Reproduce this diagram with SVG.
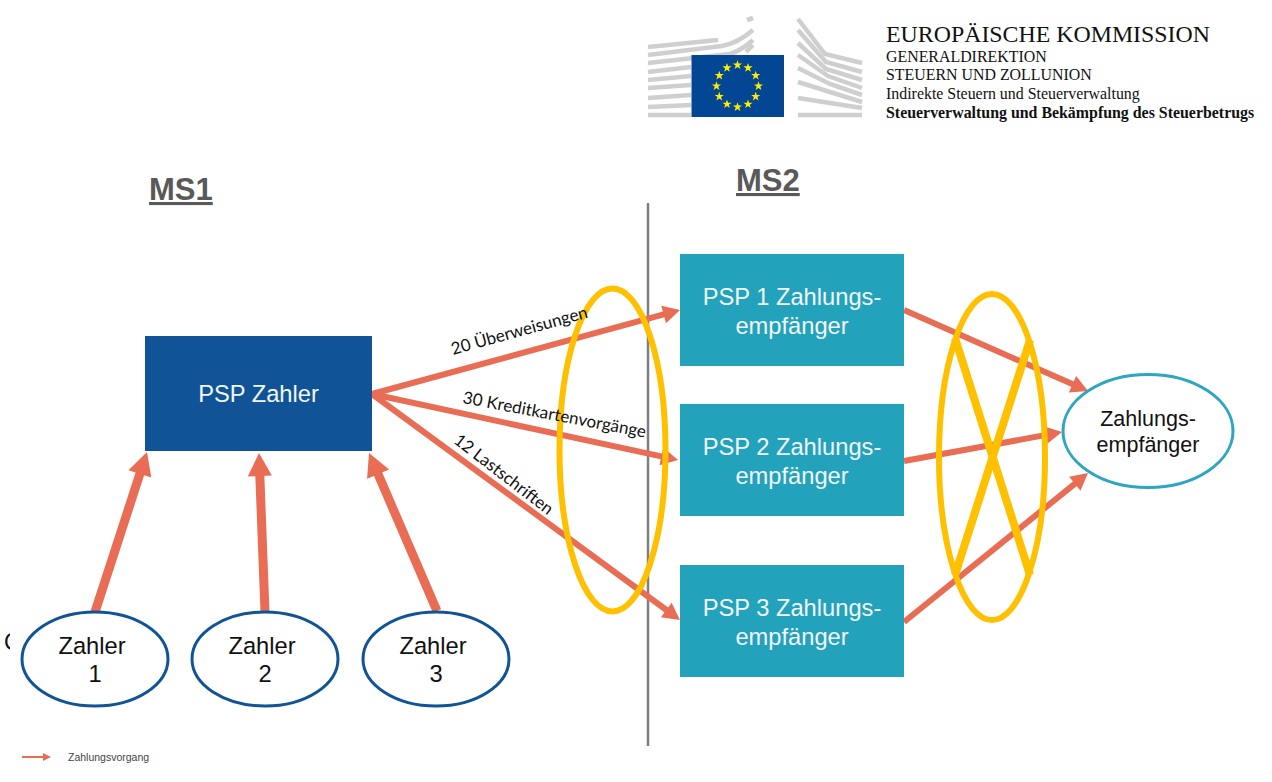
<svg xmlns="http://www.w3.org/2000/svg" width="1272" height="782" viewBox="0 0 1272 782">
<style>
.hd{font-family:"Liberation Serif","Times New Roman",serif;fill:#111;font-size:15.9px}
.ms{font-family:"Liberation Sans",Arial,sans-serif;font-weight:700;font-size:31px;fill:#595959;text-decoration:underline}
.n{font-family:"Liberation Sans",Arial,sans-serif;font-size:23.700px;text-anchor:middle}
.w{fill:#f2f6f8}
.k{fill:#111}
.box{fill:#22a2bb}
.za{fill:#fff;stroke:#105497;stroke-width:3}
.thick{stroke:#e96c54;stroke-width:9;fill:none;marker-end:url(#hb)}
.thin{stroke:#e96c54;stroke-width:6;fill:none;marker-end:url(#hs)}
.oval{fill:none;stroke:#ffc000;stroke-width:6}
.lab{font-family:Lato,"Open Sans",sans-serif;font-size:17px;fill:#111}
.st{fill:none;stroke:#cfcfcf;stroke-width:4.500}
</style>
<defs>
<marker id="hb" markerUnits="userSpaceOnUse" markerWidth="26" markerHeight="26" refX="1" refY="13" orient="auto" overflow="visible"><path d="M0,1 L23,13 L0,25 z" fill="#e96c54"/></marker>
<marker id="hs" markerUnits="userSpaceOnUse" markerWidth="18" markerHeight="20" refX="1" refY="10" orient="auto" overflow="visible"><path d="M0,1 L17,10 L0,19 z" fill="#e96c54"/></marker>
<marker id="hl" markerUnits="userSpaceOnUse" markerWidth="10" markerHeight="10" refX="1" refY="5" orient="auto" overflow="visible"><path d="M0,1 L8,5 L0,9 z" fill="#e96c54"/></marker>
<polygon id="star" points="0,-4.800 1.100,-1.500 4.600,-1.500 1.800,.6 2.900,3.900 0,1.900 -2.900,3.900 -1.800,.6 -4.600,-1.500 -1.100,-1.500" fill="#ffed00"/>
<clipPath id="cut"><rect x="0" y="625" width="10" height="35"/></clipPath>
</defs>

<g id="logo">
<g class="st">
<path d="M648,47 L718,40"/><path d="M648,55 L722,46 Q738,43 753,30"/><path d="M648,63 L730,54 Q742,50 753,40"/>
<path d="M648,72 L691,67"/><path d="M648,80 L691,76"/><path d="M648,88 L691,85"/><path d="M648,98 L691,95"/><path d="M648,107 L691,105"/><path d="M648,115 L691,115"/>
<path d="M746,52 L753,45"/><path d="M747,20 L753,18"/>
<path d="M798,19 L825,54 L862,63"/><path d="M798,30 L826,62 L862,72"/><path d="M798,43 L826,69 L862,80"/><path d="M798,55 L828,76 L862,88"/><path d="M798,68 L830,84 L862,95"/><path d="M798,82 L830,92 L862,102"/><path d="M798,98 L830,103 L862,108"/><path d="M798,115 L862,115"/>
</g>
<rect x="691.500" y="55" width="92.500" height="62" fill="#034694"/>
<use href="#star" x="737.500" y="65"/><use href="#star" x="748" y="67.800"/><use href="#star" x="755.700" y="75.500"/><use href="#star" x="758.500" y="86"/><use href="#star" x="755.700" y="96.500"/><use href="#star" x="748" y="104.200"/><use href="#star" x="737.500" y="107"/><use href="#star" x="727" y="104.200"/><use href="#star" x="719.300" y="96.500"/><use href="#star" x="716.500" y="86"/><use href="#star" x="719.300" y="75.500"/><use href="#star" x="727" y="67.800"/>
</g>
<g id="header">
<text class="hd" x="886" y="42" style="font-size:23.850px">EUROPÄISCHE KOMMISSION</text>
<text class="hd" x="886" y="62">GENERALDIREKTION</text>
<text class="hd" x="886" y="80">STEUERN UND ZOLLUNION</text>
<text class="hd" x="886" y="99">Indirekte Steuern und Steuerverwaltung</text>
<text class="hd" x="886" y="118" style="font-weight:700">Steuerverwaltung und Bekämpfung des Steuerbetrugs</text>
</g>
<text class="ms" x="149" y="200">MS1</text>
<text class="ms" x="736" y="191">MS2</text>
<line id="divider" x1="648" y1="203" x2="648" y2="746" stroke="#7f7f7f" stroke-width="2.500"/>

<g id="connectors">
<line class="thick" x1="95" y1="612" x2="140.200" y2="472.900"/>
<line class="thick" x1="265" y1="612" x2="259.800" y2="475"/>
<line class="thick" x1="437" y1="611" x2="377.700" y2="473.200"/>
<line class="thin" x1="372" y1="394" x2="664.600" y2="314.200"/>
<line class="thin" x1="372" y1="394" x2="662.400" y2="456.600"/>
<line class="thin" x1="372" y1="394" x2="667.100" y2="610.500"/>
<line class="thin" x1="904" y1="310" x2="1073.400" y2="384.600"/>
<line class="thin" x1="904" y1="461" x2="1046.300" y2="434.900"/>
<line class="thin" x1="904" y1="622" x2="1075.600" y2="483.100"/>
</g>

<g id="psp-zahler"><rect x="145" y="336" width="227" height="115" fill="#105497"/><text class="n w" x="258.500" y="402">PSP Zahler</text></g>
<g id="psp1"><rect class="box" x="680" y="254" width="224" height="112"/><text class="n w" x="792" y="305">PSP 1 Zahlungs-</text><text class="n w" x="792" y="334">empfänger</text></g>
<g id="psp2"><rect class="box" x="680" y="404" width="224" height="112"/><text class="n w" x="792" y="455">PSP 2 Zahlungs-</text><text class="n w" x="792" y="484">empfänger</text></g>
<g id="psp3"><rect class="box" x="680" y="565" width="224" height="112"/><text class="n w" x="792" y="616">PSP 3 Zahlungs-</text><text class="n w" x="792" y="645">empfänger</text></g>
<g id="zahler1"><ellipse class="za" cx="95" cy="659" rx="73" ry="47"/><text class="n k" x="92" y="654">Zahler</text><text class="n k" x="95" y="682">1</text></g>
<g id="zahler2"><ellipse class="za" cx="265" cy="659" rx="73" ry="47"/><text class="n k" x="262" y="654">Zahler</text><text class="n k" x="265" y="682">2</text></g>
<g id="zahler3"><ellipse class="za" cx="436" cy="659" rx="73" ry="47"/><text class="n k" x="433" y="654">Zahler</text><text class="n k" x="436" y="682">3</text></g>
<g id="empfaenger"><ellipse cx="1148" cy="431" rx="85" ry="56.500" fill="#fff" stroke="#2ea6bf" stroke-width="3"/><text class="n k" x="1148" y="426" style="font-size:21.500px">Zahlungs-</text><text class="n k" x="1148" y="452" style="font-size:21.500px">empfänger</text></g>

<g id="ovals">
<ellipse class="oval" cx="612.500" cy="450" rx="53" ry="161.500"/>
<ellipse class="oval" cx="992" cy="457" rx="53" ry="163"/>
<line x1="955" y1="338" x2="1030" y2="575" stroke="#ffc000" stroke-width="8"/>
<line x1="1030" y1="340" x2="955" y2="575" stroke="#ffc000" stroke-width="8"/>
</g>

<g id="labels">
<text class="lab" transform="translate(453,355) rotate(-15.500)">20 Überweisungen</text>
<text class="lab" transform="translate(462,403) rotate(10.700)">30 Kreditkartenvorgänge</text>
<text class="lab" transform="translate(452.700,442.300) rotate(37.600)">12 Lastschriften</text>
</g>

<g id="legend">
<line x1="22" y1="757" x2="44" y2="757" stroke="#e96c54" stroke-width="2" marker-end="url(#hl)"/>
<text x="68" y="761" font-family="Liberation Sans, Arial, sans-serif" font-size="10.500" fill="#444">Zahlungsvorgang</text>
</g>
<text x="4" y="650" font-family="Liberation Sans, Arial, sans-serif" font-size="23" fill="#111" clip-path="url(#cut)">C</text>
</svg>
